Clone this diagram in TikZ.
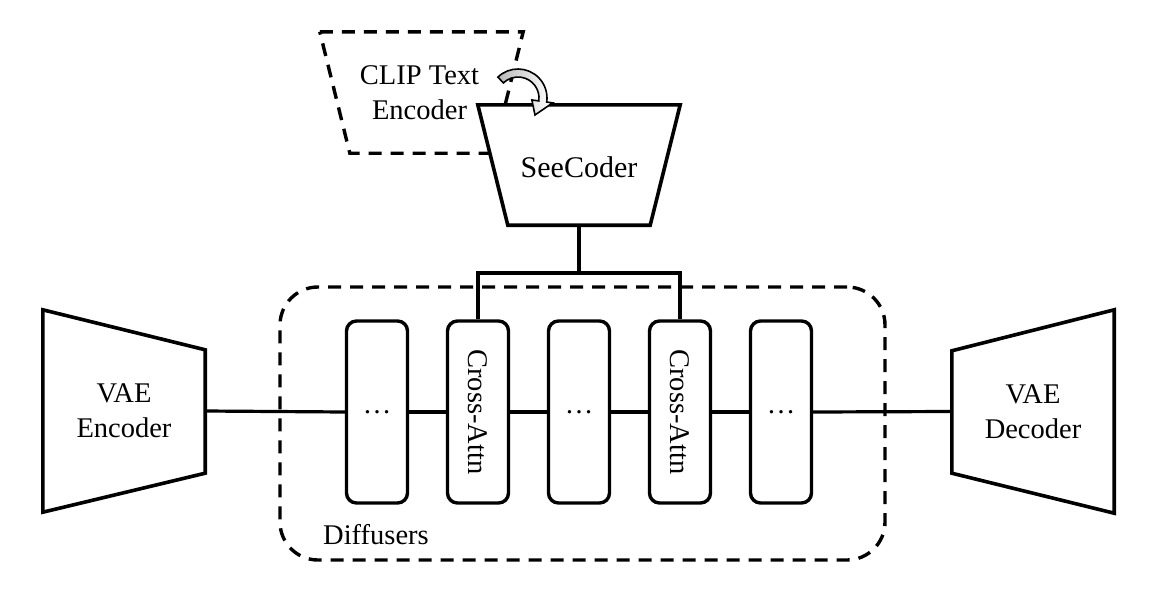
\documentclass[tikz,border=0pt]{standalone}
\usepackage{fontspec}
\setmainfont{Liberation Serif}
\usepackage{graphicx}
\usetikzlibrary{calc}
\begin{document}
\begin{tikzpicture}[x=1pt,y=-1pt, line join=miter,
  every node/.style={font=\fontsize{28.5}{35}\selectfont, inner sep=0pt},
  shapeline/.style={line width=3.6pt},
  dashline/.style={line width=3.4pt, dash pattern=on 13pt off 9pt},
  block/.style={draw, line width=3.4pt, rounded corners=10pt, minimum width=61pt, minimum height=182pt, fill=white},
  conn/.style={line width=3.2pt},
  txtbox/.style={align=center}]
\useasboundingbox (0,0) rectangle (1154,589);

% Diffusers container
\node[draw, dashline, rounded corners=38pt, minimum width=605pt, minimum height=273pt] (diff) at (582.5,423.5) {};
\node[anchor=base west] (dlabel) at (323,544) {Diffusers};

% CLIP text encoder (dashed, behind SeeCoder)
\node[txtbox, minimum width=203pt, minimum height=121pt] (clip) at (419.5,92.5) {CLIP Text\\Encoder};
\draw[dashline] ($(clip.north west)+(2,0)$) -- ($(clip.north east)+(2,0)$) -- ($(clip.south east)+(-28,0)$) -- ($(clip.south west)+(32,0)$) -- cycle;

% SeeCoder
\node[minimum width=202pt, minimum height=120pt] (see) at (579,165) {};
\draw[shapeline, fill=white] (see.north west) -- (see.north east) -- ($(see.south east)+(-30,0)$) -- ($(see.south west)+(30,0)$) -- cycle;
\node[font=\fontsize{30}{36}\selectfont] (seetxt) at (579,167) {SeeCoder};

% curved arrow
\coordinate (ac) at (518,98);
\path[draw=black, line width=1.6pt, left color=gray!55, right color=white]
  ($(ac)+(226:29)$) arc[start angle=226, end angle=368, radius=29]
  -- ($(ac)+(368:35)$) -- ($(ac)+(405:24)$) -- ($(ac)+(368:14)$) -- ($(ac)+(368:21)$)
  arc[start angle=368, end angle=226, radius=21] -- cycle;

% VAE encoder
\node[txtbox, minimum width=162pt, minimum height=202pt] (enc) at (124,411) {VAE\\Encoder};
\draw[shapeline] (enc.north west) -- ($(enc.north east)+(0,40)$) -- ($(enc.south east)+(0,-39)$) -- (enc.south west) -- cycle;

% VAE decoder
\node[txtbox, minimum width=162pt, minimum height=203pt] (dec) at (1033,411.5) {VAE\\Decoder};
\draw[shapeline] ($(dec.north west)+(0,41)$) -- (dec.north east) -- (dec.south east) -- ($(dec.south west)+(0,-40)$) -- cycle;

% blocks
\node[block] (b1) at (377,412) {…};
\node[block] (b2) at (478,412) {\rotatebox{-90}{Cross-Attn}};
\node[block] (b3) at (579,412) {…};
\node[block] (b4) at (680,412) {\rotatebox{-90}{Cross-Attn}};
\node[block] (b5) at (781,412) {…};

% main chain
\draw[conn] (enc.east) -- (b1.west);
\draw[conn] (b1.east) -- (b2.west);
\draw[conn] (b2.east) -- (b3.west);
\draw[conn] (b3.east) -- (b4.west);
\draw[conn] (b4.east) -- (b5.west);
\draw[conn] (b5.east) -- (dec.west);

% bus from SeeCoder
\coordinate (bus) at (579,273);
\draw[conn] (see.south) -- (bus);
\draw[conn] (b2.north) |- (bus) -| (b4.north);
\end{tikzpicture}
\end{document}
